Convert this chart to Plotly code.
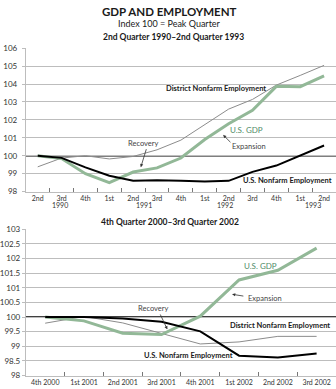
import plotly.graph_objects as go

# ---------------- data ----------------
quarters_a = ["2nd", "3rd", "4th", "1st", "2nd", "3rd", "4th", "1st", "2nd", "3rd", "4th", "1st", "2nd"]
years_a = ["1990", "1991", "1992", "1993"]
gdp_a = [100.0, 99.84, 99.0, 98.5, 99.09, 99.32, 99.87, 100.9, 101.78, 102.54, 103.87, 103.85, 104.46]
us_emp_a = [100.0, 99.88, 99.35, 98.88, 98.6, 98.63, 98.6, 98.56, 98.6, 99.1, 99.45, 100.0, 100.57]
dist_emp_a = [99.38, 99.87, 100.0, 99.82, 99.96, 100.33, 100.87, 101.74, 102.6, 103.14, 103.94, 104.48, 105.04]

quarters_b = ["4th 2000", "1st 2001", "2nd 2001", "3rd 2001", "4th 2001", "1st 2002", "2nd 2002", "3rd 2002"]
gdp_b = [100.0, 99.87, 99.45, 99.4, 100.03, 101.27, 101.6, 102.36]
us_emp_b = [100.0, 100.0, 99.95, 99.84, 99.51, 98.68, 98.62, 98.75]
dist_emp_b = [99.79, 100.02, 99.8, 99.45, 99.08, 99.15, 99.34, 99.34]

# ---------------- style ----------------
FONT = "Lato"
GREEN = "#92b897"
GREEN_TXT = "#4f8c68"
GREY = "#8c8c8c"
GRID = "#bdbdbd"
DARK = "#1a1a1a"
W, H = 336, 389

xa = list(range(len(quarters_a)))
xb = list(range(len(quarters_b)))

fig = go.Figure()

def add_series(x, ys, xaxis, yaxis):
    dist, gdp, emp = ys
    fig.add_trace(go.Scatter(x=x, y=dist, mode="lines", line=dict(color=GREY, width=1),
                             xaxis=xaxis, yaxis=yaxis, showlegend=False, hoverinfo="skip"))
    fig.add_trace(go.Scatter(x=x, y=gdp, mode="lines", line=dict(color=GREEN, width=3),
                             xaxis=xaxis, yaxis=yaxis, showlegend=False, hoverinfo="skip"))
    fig.add_trace(go.Scatter(x=x, y=emp, mode="lines", line=dict(color="black", width=2),
                             xaxis=xaxis, yaxis=yaxis, showlegend=False, hoverinfo="skip"))

add_series(xa, (dist_emp_a, gdp_a, us_emp_a), "x", "y")
add_series(xb, (dist_emp_b, gdp_b, us_emp_b), "x2", "y2")

# 100 reference lines
fig.add_shape(type="line", xref="x domain", yref="y", x0=0, x1=1, y0=100, y1=100,
              line=dict(color="black", width=1.5), layer="below")
fig.add_shape(type="line", xref="x2 domain", yref="y2", x0=0, x1=1, y0=100, y1=100,
              line=dict(color="black", width=1.5), layer="below")

x_dom = [23 / W, 1.0]
ya_dom = [(H - 191.5) / H, (H - 44.3) / H]
yb_dom = [(H - 380.3) / H, (H - 230.3) / H]

tickfont = dict(family=FONT, size=7, color="#333")

fig.update_layout(
    width=W, height=H, margin=dict(l=0, r=0, t=0, b=0),
    paper_bgcolor="white", plot_bgcolor="white",
    font=dict(family=FONT, color=DARK),
    xaxis=dict(domain=x_dom, anchor="y", range=[-0.5, len(xa) - 0.5],
               tickvals=xa, ticktext=quarters_a, ticks="", showgrid=False,
               showline=True, linecolor=GRID, linewidth=1, tickfont=tickfont,
               minor=dict(tickvals=[i + 0.5 for i in xa[:-1]], ticks="inside", ticklen=4,
                          tickcolor="#777", showgrid=False),
               zeroline=False, fixedrange=True),
    yaxis=dict(domain=ya_dom, anchor="x", range=[98, 106], dtick=1,
               showgrid=True, gridcolor=GRID, gridwidth=1, zeroline=False,
               showline=True, linecolor=GRID, ticks="outside", ticklen=3, tickcolor=GRID,
               tickfont=dict(family=FONT, size=8, color="#333"), ticklabelstandoff=3),
    xaxis2=dict(domain=x_dom, anchor="y2", range=[-0.5, len(xb) - 0.5],
                tickvals=xb, ticktext=quarters_b, ticks="", showgrid=False,
                showline=True, linecolor=GRID, linewidth=1, tickfont=tickfont,
                minor=dict(tickvals=[i + 0.5 for i in xb[:-1]], ticks="inside", ticklen=4,
                           tickcolor="#777", showgrid=False),
                zeroline=False),
    yaxis2=dict(domain=yb_dom, anchor="x2", range=[98, 103], dtick=0.5,
                showgrid=True, gridcolor=GRID, gridwidth=1, zeroline=False,
                showline=True, linecolor=GRID, ticks="outside", ticklen=3, tickcolor=GRID,
                tickfont=dict(family=FONT, size=8, color="#333")),
)

ann = []
def txt(text, x, y, xref, yref, size=7.5, color=DARK, bold=False, xanchor="center"):
    ann.append(dict(text=f"<b>{text}</b>" if bold else text, x=x, y=y, xref=xref, yref=yref,
                    showarrow=False, xanchor=xanchor, yanchor="middle",
                    font=dict(family=FONT, size=size, color=color)))

def arrow(x, y, ax, ay, xref, yref):
    ann.append(dict(text="", x=x, y=y, ax=ax, ay=ay, xref=xref, yref=yref, axref=xref, ayref=yref,
                    showarrow=True, arrowhead=2, arrowsize=0.8, arrowwidth=0.8, arrowcolor="#333"))

# titles
txt("GDP AND EMPLOYMENT", 0.5, 1 - 6.5 / H, "paper", "paper", size=11.5, bold=True)
txt("Index 100 = Peak Quarter", 0.5, 1 - 19.5 / H, "paper", "paper", size=9)
txt("2nd Quarter 1990\u20132nd Quarter 1993", 172 / W, 1 - 33 / H, "paper", "paper", size=8.5, bold=True)
txt("4th Quarter 2000\u20133rd Quarter 2002", 169 / W, 1 - 223 / H, "paper", "paper", size=8.5, bold=True)

# years under top axis
for yr, pos in zip(years_a, [0.95, 4.45, 7.85, 11.55]):
    txt(yr, pos, 1 - 205 / H, "x", "paper", size=7, color="#333")

# top chart labels
txt("District Nonfarm Employment", 7.47, 103.73, "x", "y", bold=True)
txt("U.S. GDP", 8.76, 101.43, "x", "y", size=8, color=GREEN_TXT)
txt("Expansion", 8.85, 100.51, "x", "y", color="#444")
arrow(7.77, 101.16, 8.14, 100.67, "x", "y")
txt("Recovery", 4.44, 100.7, "x", "y", color="#444")
arrow(4.32, 99.36, 4.57, 100.45, "x", "y")
txt("U.S. Nonfarm Employment", 10.47, 98.6, "x", "y", bold=True)

# bottom chart labels
txt("U.S. GDP", 5.56, 101.74, "x2", "y2", size=8, color=GREEN_TXT)
txt("Expansion", 5.66, 100.64, "x2", "y2", color="#444")
arrow(4.82, 100.78, 5.15, 100.71, "x2", "y2")
txt("District Nonfarm Employment", 6.05, 99.71, "x2", "y2", bold=True)
txt("U.S. Nonfarm Employment", 3.69, 98.68, "x2", "y2", bold=True)
txt("Recovery", 2.79, 100.31, "x2", "y2", color="#444")
arrow(3.15, 99.58, 2.95, 100.14, "x2", "y2")

fig.update_layout(annotations=ann)
fig.write_html("out.html")
